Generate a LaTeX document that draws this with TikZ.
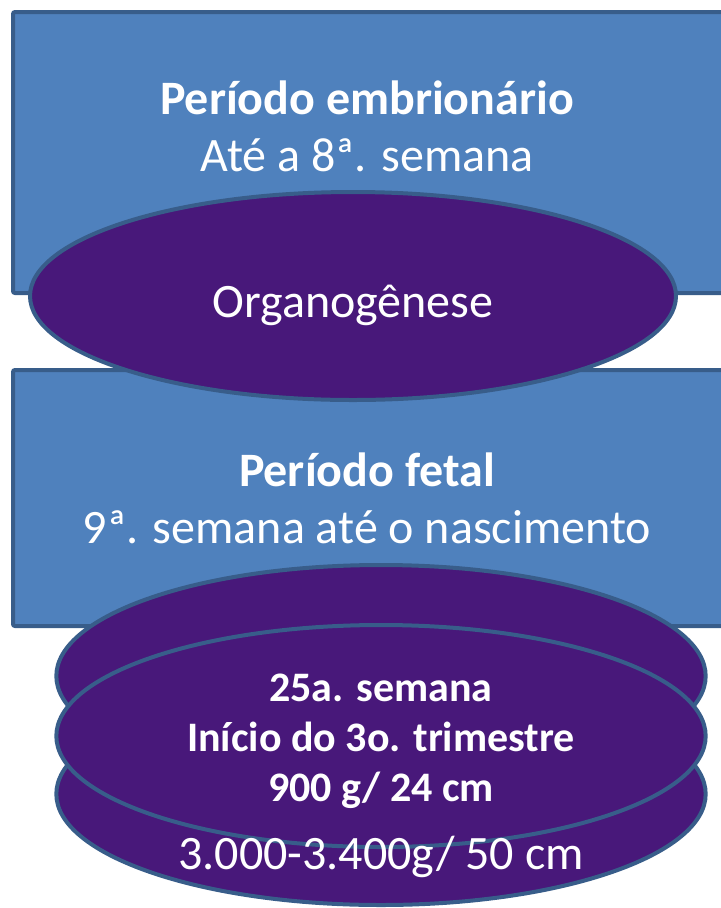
\documentclass[tikz,border=0pt]{standalone}
\usepackage{fontspec}
\setmainfont{Carlito}
\usetikzlibrary{shapes.geometric}

\definecolor{boxblue}{RGB}{79,129,189}
\definecolor{edgeblue}{RGB}{56,93,138}
\definecolor{eggpurple}{RGB}{72,24,122}

\begin{document}
\begin{tikzpicture}[x=0.75pt,y=0.75pt,yscale=-1,xscale=1,
  periodbox/.style={draw=edgeblue,fill=boxblue,line width=3,rounded corners=1.5},
  stageegg/.style={ellipse,draw=edgeblue,fill=eggpurple,line width=3,inner sep=0pt,
    minimum width=487pt,minimum height=166.5pt},
  bigtext/.style={text=white,align=center,font=\fontsize{36}{42.75}\selectfont},
  smalltext/.style={text=white,align=center,font=\fontsize{31.5}{37.5}\selectfont\bfseries}]
\useasboundingbox (0,0) rectangle (721,908);

%Shape: Rectangle [embrionario]
\draw [periodbox] (13,12) rectangle (745,293) ;
%Shape: Rectangle [fetal]
\draw [periodbox] (13,370) rectangle (745,626) ;

%Shape: Ellipse [organogenese]
\node [stageegg,minimum width=484.5pt,minimum height=156pt] (organo) at (353,296) {};

%Shape: Ellipse [stack]
\node [stageegg] (eggtop) at (381,676) {};
\node [stageegg] (eggbottom) at (381,794) {};
\node [stageegg] (eggmiddle) at (381,736) {};

%Text
\node [bigtext] (embtext) at (367,126) {\textbf{Período embrionário}\\Até a 8ª. semana};
\node [bigtext] (fetaltext) at (367,498) {\textbf{Período fetal}\\9ª. semana até o nascimento};
\node [bigtext] (organotext) at (353,305) {Organogênese};
\node [bigtext] (birthtext) at (381,857) {3.000-3.400g/ 50 cm};
\node [smalltext] (weektext) at (381,741) {25a. semana\\Início do 3o. trimestre\\900 g/ 24 cm};

\end{tikzpicture}
\end{document}
